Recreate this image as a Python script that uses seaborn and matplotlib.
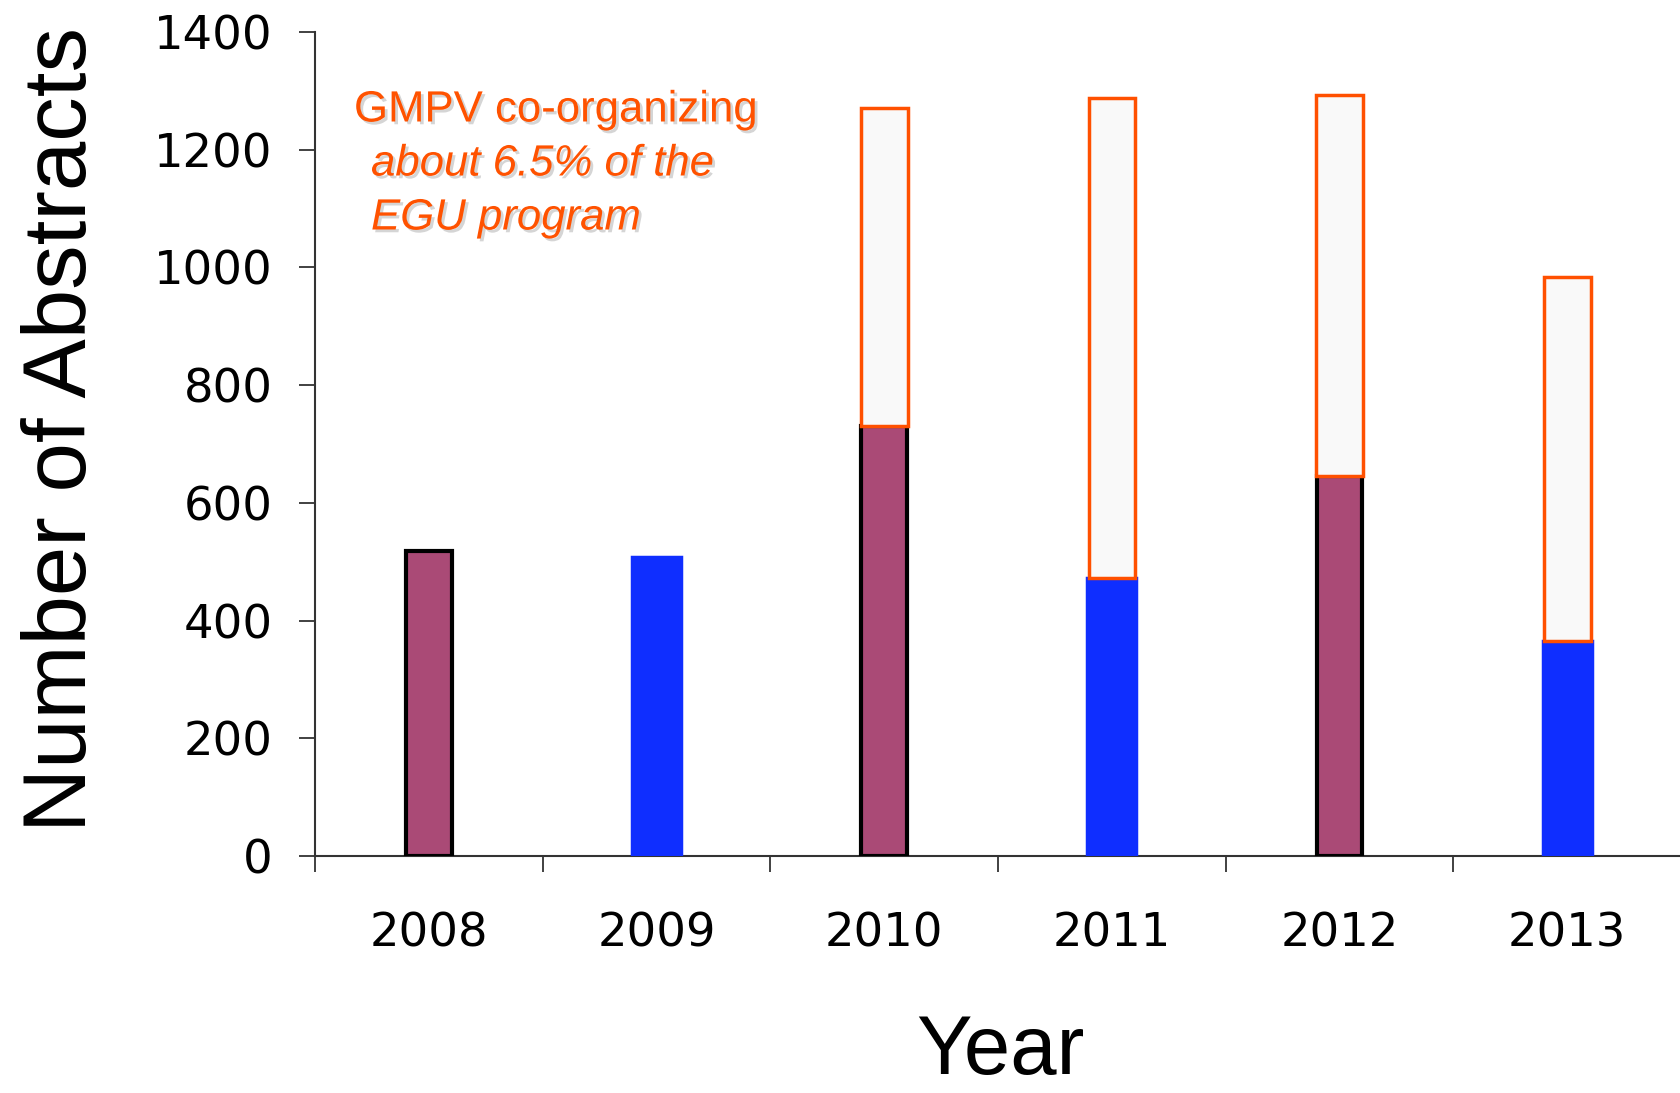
import numpy as np
import pandas as pd
import seaborn as sns
import matplotlib.pyplot as plt
import matplotlib.patheffects as pe

# data
years = ["2008", "2009", "2010", "2011", "2012", "2013"]
gmpv = [518, 508, 730, 473, 645, 366]           # GMPV own abstracts
coorg_total = [0, 0, 1270, 1288, 1292, 983]     # incl. co-organized sessions
bar_colors = ["#AA4A76", "#0F2EFF", "#AA4A76", "#0F2EFF", "#AA4A76", "#0F2EFF"]

df = pd.DataFrame({"Year": years, "Abstracts": gmpv, "Color": bar_colors})

sns.set_style("white")
plt.rcParams["font.family"] = ["DejaVu Sans"]
plt.rcParams["text.color"] = "black"
plt.rcParams["xtick.labelcolor"] = "black"
plt.rcParams["ytick.labelcolor"] = "black"

fig = plt.figure(figsize=(16.81, 10.93), dpi=100)
ax = fig.add_axes([0.1874, 0.2168, 0.8126, 0.754])

# even years purple, odd years blue
purple = df[df["Color"] == "#AA4A76"]
blue = df[df["Color"] == "#0F2EFF"]
sns.barplot(data=purple, x="Year", y="Abstracts", order=years, color="#AA4A76",
            width=0.2, edgecolor="black", linewidth=3, saturation=1, ax=ax, zorder=3)
sns.barplot(data=blue, x="Year", y="Abstracts", order=years, color="#0F2EFF",
            width=0.215, edgecolor="#0F2EFF", linewidth=2.5, saturation=1, ax=ax, zorder=3)

# co-organized part stacked on top
extra = np.array(coorg_total) - np.array(gmpv)
pos = np.arange(len(years))
mask = np.array(coorg_total) > 0
ax.bar(pos[mask], extra[mask], bottom=np.array(gmpv)[mask], width=0.205,
       color="#F9F9F9", edgecolor="#FF5000", linewidth=2.5, zorder=4)

ax.set_xlim(-0.5, 5.42)
ax.set_ylim(0, 1400)
ax.set_yticks(range(0, 1401, 200))
ax.set_xlabel("")
ax.set_ylabel("")

for s in ["top", "right"]:
    ax.spines[s].set_visible(False)
for s in ["left", "bottom"]:
    ax.spines[s].set_color("#333333")
    ax.spines[s].set_linewidth(1.5)

ax.set_xticks(np.arange(-0.5, 5.6, 1), minor=True)
ax.tick_params(axis="x", which="major", length=0, pad=40, labelsize=33.5, labelcolor="black")
ax.tick_params(axis="x", which="minor", bottom=True, length=11.5, width=1.3,
               color="#333333", direction="out")
ax.tick_params(axis="y", length=11.5, width=1.3, color="#333333", direction="out",
               pad=19, labelsize=33.5, left=True, labelcolor="black")

fig.text(0.0512, 0.6075, "Number of Abstracts", rotation=90, rotation_mode="anchor",
         ha="center", va="baseline", fontsize=64, family="Liberation Sans", color="black")
fig.text(0.595, 0.017, "Year", ha="center", va="baseline", fontsize=60,
         family="Liberation Sans", color="black")

shadow = [pe.SimplePatchShadow(offset=(2, -2), shadow_rgbFace="#888888", alpha=0.35), pe.Normal()]
orange = "#FF5200"
fig.text(354 / 1681, 1 - 110 / 1093, "GMPV co-organizing", color=orange, fontsize=31.5,
         family="Liberation Sans", va="center", ha="left", path_effects=shadow)
fig.text(371 / 1681, 1 - 164 / 1093, "about 6.5% of the", color=orange, fontsize=31.5,
         family="Liberation Sans", style="italic", va="center", ha="left", path_effects=shadow)
fig.text(371 / 1681, 1 - 218 / 1093, "EGU program", color=orange, fontsize=31.5,
         family="Liberation Sans", style="italic", va="center", ha="left", path_effects=shadow)

fig.savefig("out.png", dpi=100)
